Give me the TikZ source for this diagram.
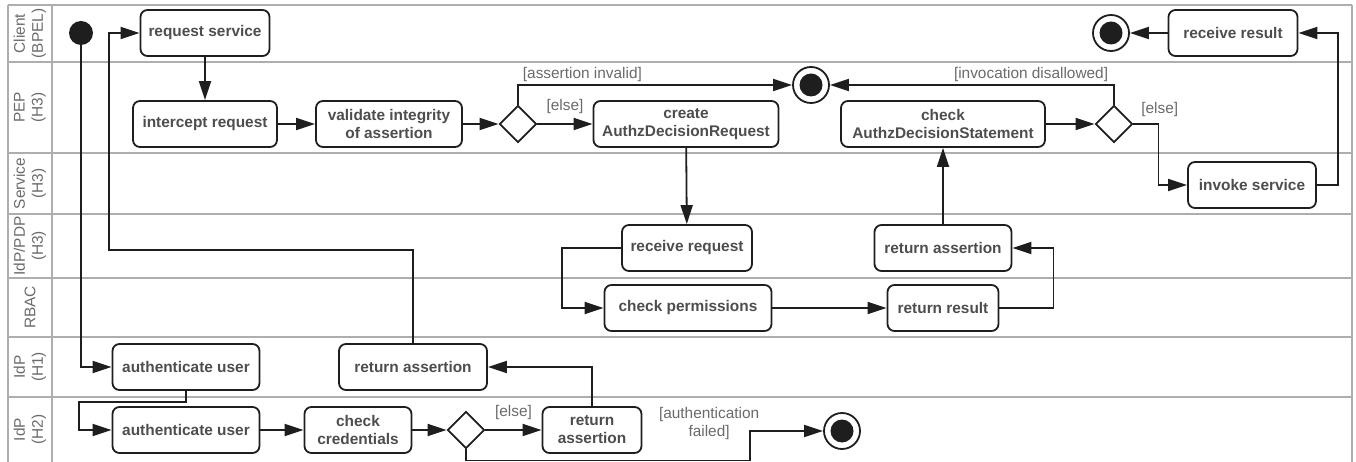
\documentclass[tikz,border=0pt]{standalone}
\usepackage{fontspec}
\setmainfont{Liberation Sans}
\usetikzlibrary{arrows.meta,shapes.geometric}

\definecolor{lanegray}{HTML}{AEAEAE}
\definecolor{actgray}{HTML}{4D4D4D}
\definecolor{guardgray}{HTML}{6A6A6A}
\definecolor{ink}{HTML}{1E1E1E}

\begin{document}
\begin{tikzpicture}[x=1pt,y=-1pt,
  action/.style={draw=ink, line width=1.8pt, rounded corners=7pt, text=actgray,
    font=\fontsize{15.4}{18}\selectfont\bfseries, align=center,
    minimum height=46pt, inner sep=0pt},
  decision/.style={draw=ink, line width=1.8pt, diamond, minimum width=37pt,
    minimum height=37pt, inner sep=0pt},
  initial/.style={circle, fill=ink, minimum size=24pt, inner sep=0pt},
  final/.style={circle, draw=ink, line width=1.8pt, minimum size=36pt, inner sep=0pt,
    path picture={\fill[ink] (path picture bounding box.center) circle (11.5pt);}},
  flow/.style={draw=ink, line width=1.8pt, -{Triangle[length=19pt,width=12pt]}},
  guard/.style={text=guardgray, font=\fontsize{15.4}{18}\selectfont, inner sep=2pt},
  lanelabel/.style={text=guardgray, font=\fontsize{15.4}{18}\selectfont, rotate=90,
    align=center, inner sep=0pt},
  lane/.style={draw=lanegray, line width=2.2pt}]
\useasboundingbox (0,0) rectangle (1356,462);

% swimlanes
\foreach \y in {5,62,153,214,278,337,397}
  \draw[lane] (8,\y) -- (1352,\y);
\foreach \x in {8,52,1352}
  \draw[lane] (\x,5) -- (\x,462);
\foreach \y/\txt [count=\i] in {33.5/{Client\\(BPEL)}, 107.5/{PEP\\(H3)},
    183.5/{Service\\(H3)}, 246/{IdP/PDP\\(H3)}, 307.5/{RBAC},
    367/{IdP\\(H1)}, 429.5/{IdP\\(H2)}}
  \node[lanelabel] (lane\i) at (30,\y) {\txt};

% client and PEP
\node[initial] (start) at (81,33) {};
\node[action, minimum width=129pt] (reqsvc) at (205,33) {request service};
\node[action, minimum width=144pt] (intercept) at (205,124) {intercept request};
\node[action, minimum width=146pt] (validate) at (389,124) {validate integrity\\of assertion};
\node[decision] (dec1) at (518,124) {};
\node[action, minimum width=185pt] (createreq) at (686,124) {create\\AuthzDecisionRequest};
\node[final] (endpep) at (811,85) {};
\node[action, minimum width=204pt] (checkstmt) at (943,124) {check\\AuthzDecisionStatement};
\node[decision] (dec2) at (1114,124) {};
\node[action, minimum width=128pt] (invoke) at (1252,185) {invoke service};
\node[action, minimum width=129pt] (recvres) at (1233,33) {receive result};
\node[final] (endclient) at (1111,33) {};

% PDP and RBAC
\node[action, minimum width=130pt] (recvreq) at (687,248) {receive request};
\node[action, minimum width=167pt] (checkperm) at (688,308) {check permissions};
\node[action, minimum width=137pt] (retassert3) at (943,248) {return assertion};
\node[action, minimum width=111pt] (retresult) at (943,308) {return result};

% IdPs
\node[action, minimum width=147pt] (auth1) at (186,367) {authenticate user};
\node[action, minimum width=148pt] (retassert1) at (413,367) {return assertion};
\node[action, minimum width=147pt] (auth2) at (186,430) {authenticate user};
\node[action, minimum width=107pt] (checkcred) at (358,430) {check\\credentials};
\node[decision] (dec3) at (466,430) {};
\node[action, minimum width=99pt] (retassert2) at (592,430) {return\\assertion};
\node[final] (endidp) at (842,431) {};

% flows
\draw[flow] (start) |- (auth1);
\draw[flow] (auth1.south) -- ++(0,11) -| ([xshift=-33pt]auth2.west) -- (auth2.west);
\draw[flow] (auth2) -- (checkcred);
\draw[flow] (checkcred) -- (dec3);
\draw[flow] (dec3) -- node[guard, above=7pt] {[else]} (retassert2);
\draw[flow] (dec3.south) -- ++(0,11) -| ([xshift=-73pt]endidp.west)
  node[guard, align=center, xshift=-41pt, yshift=7pt] {[authentication\\failed]} -- (endidp);
\draw[flow] (retassert2.north) |- (retassert1.east);
\draw[flow] (retassert1.north) -- ++(0,-93) -| ([xshift=-31pt]reqsvc.west) -- (reqsvc.west);
\draw[flow] (reqsvc) -- (intercept);
\draw[flow] (intercept) -- (validate);
\draw[flow] (validate) -- (dec1);
\draw[flow] (dec1) -- node[guard, above=7pt] {[else]} (createreq);
\draw[flow] (dec1.north) |- node[guard, pos=0.5, anchor=south west, xshift=2pt] {[assertion invalid]} (endpep);
\draw[flow] (createreq) -- (recvreq);
\draw[flow] (recvreq.west) -- ++(-59,0) |- (checkperm.west);
\draw[flow] (checkperm) -- (retresult);
\draw[flow] (retresult.east) -- ++(54,0) |- (retassert3.east);
\draw[flow] (retassert3) -- (checkstmt);
\draw[flow] (checkstmt) -- (dec2);
\draw[flow] (dec2.north) |- node[guard, pos=0.5, anchor=south east, xshift=-3pt] {[invocation disallowed]} (endpep);
\draw[flow] (dec2.east) -- node[guard, pos=0, anchor=south west, xshift=5pt, yshift=4pt] {[else]} ++(25,0) |- (invoke.west);
\draw[flow] (invoke.east) -- ++(21,0) |- (recvres.east);
\draw[flow] (recvres) -- (endclient);
\end{tikzpicture}
\end{document}
